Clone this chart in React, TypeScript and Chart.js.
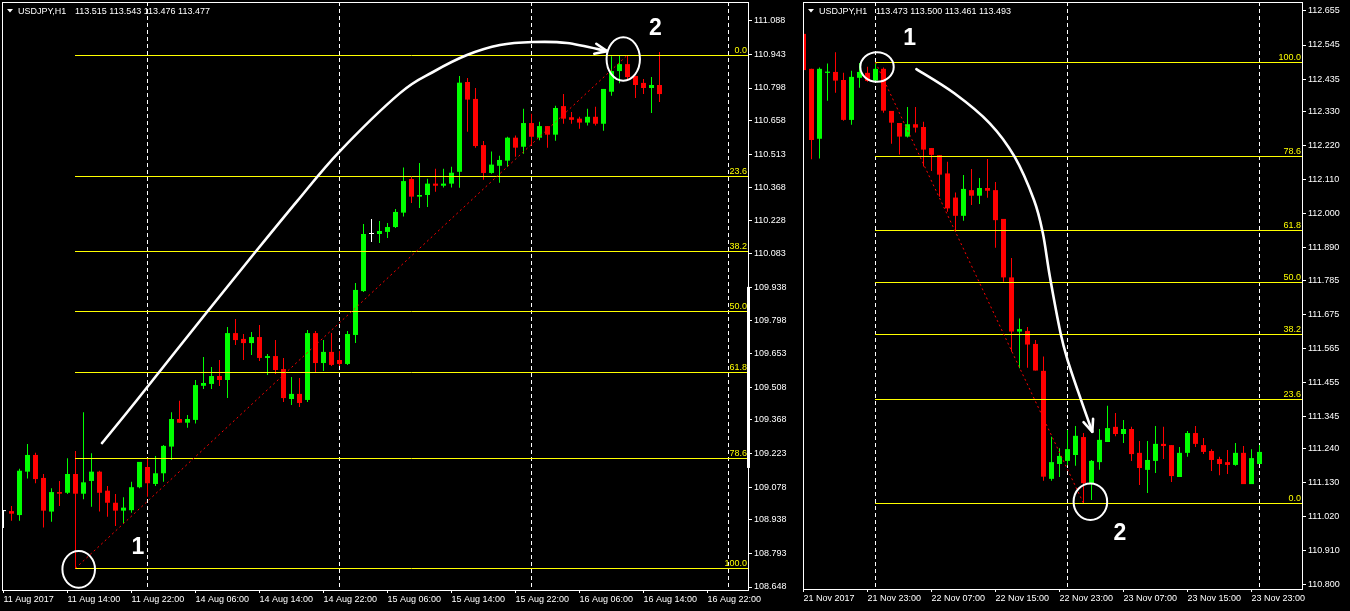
import React, { useEffect, useRef } from 'react';
import { Chart, registerables } from 'chart.js';

Chart.register(...registerables);

// ---------------- Left panel: USDJPY H1, 11–16 Aug 2017 (bar index 0 = 11 Aug 06:00) ----------------
const LEFT_OPEN = [
  108.975, 108.975, 108.958, 109.145, 109.217, 109.118, 108.973, 109.057, 109.054, 109.135,
  109.050, 109.105, 109.145, 109.063, 109.011, 108.977, 108.979, 109.078, 109.165, 109.092,
  109.138, 109.253, 109.372, 109.356, 109.368, 109.515, 109.523, 109.557, 109.540, 109.742,
  109.717, 109.699, 109.725, 109.635, 109.643, 109.587, 109.458, 109.480, 109.454, 109.742,
  109.613, 109.661, 109.626, 109.609, 109.734, 109.923, 110.169, 110.169, 110.178, 110.199,
  110.261, 110.406, 110.330, 110.337, 110.386, 110.377, 110.386, 110.437, 110.824, 110.751,
  110.552, 110.432, 110.463, 110.485, 110.584, 110.545, 110.647, 110.584, 110.634, 110.597,
  110.720, 110.672, 110.666, 110.649, 110.674, 110.644, 110.782, 110.871, 110.901, 110.850,
  110.820, 110.798, 110.811,
];
const LEFT_HIGH = [
  108.979, 108.997, 109.157, 109.264, 109.227, 109.135, 109.073, 109.105, 109.203, 109.234,
  109.401, 109.224, 109.149, 109.083, 109.049, 109.035, 109.101, 109.187, 109.203, 109.213,
  109.260, 109.401, 109.450, 109.389, 109.540, 109.639, 109.596, 109.626, 109.768, 109.803,
  109.738, 109.747, 109.777, 109.652, 109.712, 109.635, 109.553, 109.549, 109.755, 109.751,
  109.712, 109.742, 109.665, 109.751, 109.958, 110.212, 110.234, 110.225, 110.216, 110.277,
  110.455, 110.415, 110.475, 110.407, 110.450, 110.450, 110.459, 110.850, 110.841, 110.798,
  110.570, 110.524, 110.506, 110.588, 110.593, 110.709, 110.687, 110.653, 110.634, 110.722,
  110.772, 110.695, 110.674, 110.709, 110.717, 110.794, 110.935, 110.938, 110.940, 110.850,
  110.837, 110.845, 110.953,
];
const LEFT_LOW = [
  108.902, 108.934, 108.934, 109.116, 109.095, 108.904, 108.929, 108.997, 109.049, 108.729,
  109.026, 108.994, 108.973, 108.951, 108.911, 108.923, 108.968, 109.073, 109.037, 109.083,
  109.102, 109.195, 109.356, 109.334, 109.353, 109.501, 109.501, 109.514, 109.462, 109.691,
  109.626, 109.648, 109.622, 109.561, 109.566, 109.445, 109.432, 109.424, 109.445, 109.574,
  109.579, 109.600, 109.600, 109.605, 109.699, 109.919, 110.135, 110.130, 110.152, 110.195,
  110.244, 110.303, 110.281, 110.285, 110.351, 110.369, 110.369, 110.368, 110.610, 110.541,
  110.403, 110.429, 110.390, 110.459, 110.502, 110.515, 110.549, 110.573, 110.541, 110.571,
  110.644, 110.644, 110.623, 110.636, 110.636, 110.614, 110.765, 110.818, 110.833, 110.755,
  110.772, 110.690, 110.738,
];
const LEFT_CLOSE = [
  108.975, 108.964, 109.149, 109.217, 109.113, 108.977, 109.057, 109.050, 109.135, 109.050,
  109.099, 109.145, 109.054, 109.011, 108.977, 108.990, 109.078, 109.187, 109.095, 109.138,
  109.256, 109.372, 109.356, 109.372, 109.518, 109.527, 109.557, 109.540, 109.742, 109.712,
  109.699, 109.725, 109.635, 109.643, 109.583, 109.462, 109.480, 109.441, 109.742, 109.613,
  109.661, 109.605, 109.609, 109.738, 109.928, 110.169, 110.169, 110.182, 110.199, 110.264,
  110.397, 110.330, 110.337, 110.386, 110.377, 110.386, 110.433, 110.821, 110.748, 110.548,
  110.432, 110.468, 110.488, 110.584, 110.541, 110.647, 110.588, 110.634, 110.597, 110.712,
  110.666, 110.661, 110.649, 110.674, 110.644, 110.794, 110.871, 110.901, 110.845, 110.811,
  110.798, 110.811, 110.772,
];
const LEFT_PRICE_TICKS = [
  111.088, 110.943, 110.798, 110.658, 110.513, 110.368, 110.228, 110.083, 109.938,
  109.798, 109.653, 109.508, 109.368, 109.223, 109.078, 108.938, 108.793, 108.648,
];
const LEFT_TIME_INDEX = [0, 8, 16, 24, 32, 40, 48, 56, 64, 72, 80, 88];
const LEFT_TIME_LABELS = [
  '11 Aug 2017', '11 Aug 14:00', '11 Aug 22:00', '14 Aug 06:00', '14 Aug 14:00', '14 Aug 22:00',
  '15 Aug 06:00', '15 Aug 14:00', '15 Aug 22:00', '16 Aug 06:00', '16 Aug 14:00', '16 Aug 22:00',
];
const LEFT_SEPARATORS = [18, 42, 66, 90.6];
const LEFT_FIB_HIGH = 110.94;
const LEFT_FIB_LOW = 108.729;
const LEFT_FIB_LOW_INDEX = 9;
const LEFT_FIB_HIGH_INDEX = 78;
const LEFT_ARC_X = [12.31, 16.69, 25.44, 31.69, 36.81, 41.94, 49.56, 53.69, 57.94, 62.06, 66.19, 70.44, 75.44];
const LEFT_ARC_P = [109.268, 109.454, 109.833, 110.1, 110.315, 110.522, 110.776, 110.867, 110.94, 110.983, 110.996, 110.992, 110.957];
const LEFT_QUOTE = '113.515 113.543 113.476 113.477';

// ---------------- Right panel: USDJPY H1, 21–24 Nov 2017 (bar index 0 = 21 Nov 15:00) ----------------
const RIGHT_OPEN = [
  112.581, 112.468, 112.242, 112.455, 112.458, 112.432, 112.303, 112.439, 112.455, 112.430,
  112.468, 112.332, 112.293, 112.249, 112.289, 112.280, 112.212, 112.189, 112.130, 112.052,
  111.993, 112.076, 112.058, 112.083, 112.076, 111.983, 111.794, 111.619, 111.621, 111.579,
  111.492, 111.143, 111.191, 111.201, 111.220, 111.278, 111.129, 111.197, 111.262, 111.311,
  111.288, 111.304, 111.227, 111.172, 111.201, 111.256, 111.252, 111.149, 111.227, 111.291,
  111.252, 111.233, 111.207, 111.197, 111.188, 111.227, 111.126, 111.191,
];
const RIGHT_HIGH = [
  112.587, 112.468, 112.472, 112.485, 112.522, 112.455, 112.462, 112.487, 112.475, 112.489,
  112.472, 112.332, 112.293, 112.345, 112.345, 112.297, 112.212, 112.189, 112.168, 112.068,
  112.125, 112.144, 112.115, 112.177, 112.102, 111.983, 111.857, 111.661, 111.634, 111.592,
  111.538, 111.279, 111.242, 111.301, 111.314, 111.291, 111.204, 111.304, 111.379, 111.356,
  111.333, 111.311, 111.265, 111.265, 111.314, 111.311, 111.252, 111.246, 111.298, 111.314,
  111.275, 111.239, 111.214, 111.236, 111.259, 111.249, 111.239, 111.252,
];
const RIGHT_LOW = [
  112.423, 112.176, 112.178, 112.365, 112.391, 112.300, 112.287, 112.407, 112.426, 112.430,
  112.326, 112.226, 112.191, 112.246, 112.262, 112.152, 112.138, 112.055, 112.006, 111.942,
  111.977, 112.028, 112.031, 112.051, 111.890, 111.780, 111.554, 111.500, 111.502, 111.493,
  111.137, 111.137, 111.149, 111.187, 111.185, 111.064, 111.075, 111.172, 111.262, 111.281,
  111.259, 111.201, 111.123, 111.097, 111.162, 111.207, 111.133, 111.149, 111.214, 111.246,
  111.223, 111.168, 111.155, 111.159, 111.185, 111.126, 111.126, 111.191,
];
const RIGHT_CLOSE = [
  112.464, 112.238, 112.468, 112.459, 112.430, 112.303, 112.442, 112.458, 112.429, 112.468,
  112.333, 112.294, 112.249, 112.289, 112.278, 112.207, 112.190, 112.126, 112.017, 111.993,
  112.080, 112.058, 112.083, 112.074, 111.979, 111.794, 111.619, 111.627, 111.577, 111.493,
  111.150, 111.197, 111.217, 111.239, 111.282, 111.129, 111.201, 111.269, 111.307, 111.288,
  111.304, 111.223, 111.178, 111.204, 111.256, 111.249, 111.152, 111.227, 111.291, 111.256,
  111.230, 111.204, 111.191, 111.188, 111.227, 111.126, 111.210, 111.230,
];
const RIGHT_PRICE_TICKS = [
  112.655, 112.545, 112.435, 112.33, 112.22, 112.11, 112.0, 111.89, 111.785,
  111.675, 111.565, 111.455, 111.345, 111.24, 111.13, 111.02, 110.91, 110.8,
];
const RIGHT_TIME_INDEX = [0, 8, 16, 24, 32, 40, 48, 56];
const RIGHT_TIME_LABELS = [
  '21 Nov 2017', '21 Nov 23:00', '22 Nov 07:00', '22 Nov 15:00',
  '22 Nov 23:00', '23 Nov 07:00', '23 Nov 15:00', '23 Nov 23:00',
];
const RIGHT_SEPARATORS = [9, 33, 57];
const RIGHT_FIB_HIGH = 112.489;
const RIGHT_FIB_LOW = 111.064;
const RIGHT_FIB_HIGH_INDEX = 9;
const RIGHT_FIB_LOW_INDEX = 35;
const RIGHT_ARC_X = [14.11, 18.85, 23.28, 26.38, 28.81, 29.91, 30.8, 32.13, 33.01, 34.69, 36.1];
const RIGHT_ARC_P = [112.467, 112.389, 112.292, 112.184, 112.044, 111.938, 111.796, 111.614, 111.527, 111.398, 111.295];
const RIGHT_QUOTE = '113.473 113.500 113.461 113.493';

const FIB_LEVELS = [0, 23.6, 38.2, 50, 61.8, 78.6, 100];
const FIB_LABELS = ['0.0', '23.6', '38.2', '50.0', '61.8', '78.6', '100.0'];

const BULL = '#00ff00';
const BEAR = '#ff0000';
const DOJI = '#ffffff';
const FONT = '"Liberation Sans", Arial, sans-serif';

type Panel = {
  open: number[]; high: number[]; low: number[]; close: number[];
  xMin: number; xMax: number; yMin: number; yMax: number;
  priceTicks: number[]; timeIdx: number[]; timeLabels: string[];
  separators: number[];
  fibStart: number; fibPrices: number[];
  trendFrom: [number, number]; trendTo: [number, number];
  arcX: number[]; arcP: number[];
  circles: { x: number; p: number; rx: number; ry: number }[];
  marks: { x: number; p: number; text: string }[];
  quote: string;
  padLeft: number; yAxisWidth: number; xAxisHeight: number;
  scrollMark?: [number, number];
};

const LEFT_PANEL: Panel = {
  open: LEFT_OPEN, high: LEFT_HIGH, low: LEFT_LOW, close: LEFT_CLOSE,
  xMin: -0.1875, xMax: 93.0625, yMin: 108.6351, yMax: 111.1686,
  priceTicks: LEFT_PRICE_TICKS, timeIdx: LEFT_TIME_INDEX, timeLabels: LEFT_TIME_LABELS,
  separators: LEFT_SEPARATORS,
  fibStart: LEFT_FIB_LOW_INDEX,
  fibPrices: FIB_LEVELS.map((l) => LEFT_FIB_HIGH - (l / 100) * (LEFT_FIB_HIGH - LEFT_FIB_LOW)),
  trendFrom: [LEFT_FIB_LOW_INDEX, LEFT_FIB_LOW], trendTo: [LEFT_FIB_HIGH_INDEX, LEFT_FIB_HIGH],
  arcX: LEFT_ARC_X, arcP: LEFT_ARC_P,
  circles: [
    { x: 9.4, p: 108.724, rx: 16.3, ry: 18.3 },
    { x: 77.47, p: 110.923, rx: 16.7, ry: 21.7 },
  ],
  marks: [
    { x: 16.81, p: 108.822, text: '1' },
    { x: 81.5, p: 111.057, text: '2' },
  ],
  quote: LEFT_QUOTE,
  padLeft: 2, yAxisWidth: 49, xAxisHeight: 21,
  scrollMark: [109.941, 109.161],
};

const RIGHT_PANEL: Panel = {
  open: RIGHT_OPEN, high: RIGHT_HIGH, low: RIGHT_LOW, close: RIGHT_CLOSE,
  xMin: -0.0625, xMax: 62.3125, yMin: 110.787, yMax: 112.684,
  priceTicks: RIGHT_PRICE_TICKS, timeIdx: RIGHT_TIME_INDEX, timeLabels: RIGHT_TIME_LABELS,
  separators: RIGHT_SEPARATORS,
  fibStart: RIGHT_FIB_HIGH_INDEX,
  fibPrices: FIB_LEVELS.map((l) => RIGHT_FIB_LOW + (l / 100) * (RIGHT_FIB_HIGH - RIGHT_FIB_LOW)),
  trendFrom: [RIGHT_FIB_HIGH_INDEX, RIGHT_FIB_HIGH], trendTo: [RIGHT_FIB_LOW_INDEX, RIGHT_FIB_LOW],
  arcX: RIGHT_ARC_X, arcP: RIGHT_ARC_P,
  circles: [
    { x: 9.19, p: 112.474, rx: 16.7, ry: 14.7 },
    { x: 35.86, p: 111.069, rx: 16.8, ry: 18.3 },
  ],
  marks: [
    { x: 13.27, p: 112.568, text: '1' },
    { x: 39.54, p: 110.97, text: '2' },
  ],
  quote: RIGHT_QUOTE,
  padLeft: 6, yAxisWidth: 48, xAxisHeight: 22,
};

function smoothPath(ctx: CanvasRenderingContext2D, pts: number[][]) {
  ctx.beginPath();
  ctx.moveTo(pts[0][0], pts[0][1]);
  for (let i = 0; i < pts.length - 1; i++) {
    const p0 = pts[i - 1] || pts[i];
    const p1 = pts[i];
    const p2 = pts[i + 1];
    const p3 = pts[i + 2] || p2;
    ctx.bezierCurveTo(
      p1[0] + (p2[0] - p0[0]) / 6, p1[1] + (p2[1] - p0[1]) / 6,
      p2[0] - (p3[0] - p1[0]) / 6, p2[1] - (p3[1] - p1[1]) / 6,
      p2[0], p2[1],
    );
  }
  ctx.stroke();
}

function makeOverlay(p: Panel) {
  return {
    id: 'mt4overlay',
    beforeDatasetsDraw(chart: any) {
      const { ctx, chartArea: a, scales } = chart;
      ctx.save();
      ctx.strokeStyle = '#ffffff';
      ctx.lineWidth = 1;
      ctx.setLineDash([4, 3]);
      for (const s of p.separators) {
        const px = Math.floor(scales.x.getPixelForValue(s)) + 0.5;
        ctx.beginPath();
        ctx.moveTo(px, a.top);
        ctx.lineTo(px, a.bottom);
        ctx.stroke();
      }
      ctx.restore();
    },
    afterDatasetsDraw(chart: any) {
      const { ctx, chartArea: a, scales } = chart;
      const x = scales.x;
      const y = scales.y;
      ctx.save();
      ctx.beginPath();
      ctx.rect(a.left, a.top, a.right - a.left, a.bottom - a.top);
      ctx.clip();

      // Fibonacci levels
      const xs = Math.floor(x.getPixelForValue(p.fibStart));
      ctx.strokeStyle = '#ffff00';
      ctx.fillStyle = '#ffff00';
      ctx.lineWidth = 1;
      ctx.setLineDash([]);
      ctx.font = `9px ${FONT}`;
      ctx.textAlign = 'right';
      ctx.textBaseline = 'alphabetic';
      p.fibPrices.forEach((price, i) => {
        const py = Math.floor(y.getPixelForValue(price)) + 0.5;
        ctx.beginPath();
        ctx.moveTo(xs, py);
        ctx.lineTo(a.right, py);
        ctx.stroke();
        ctx.fillText(FIB_LABELS[i], a.right - 1, py - 2.5);
      });

      // Fibonacci trend line (red dotted)
      ctx.strokeStyle = '#ff0000';
      ctx.setLineDash([2, 3]);
      ctx.beginPath();
      ctx.moveTo(x.getPixelForValue(p.trendFrom[0]), y.getPixelForValue(p.trendFrom[1]));
      ctx.lineTo(x.getPixelForValue(p.trendTo[0]), y.getPixelForValue(p.trendTo[1]));
      ctx.stroke();
      ctx.setLineDash([]);

      // White hand-drawn annotations
      ctx.strokeStyle = '#ffffff';
      ctx.fillStyle = '#ffffff';
      ctx.lineCap = 'round';
      ctx.lineJoin = 'round';
      const pts = p.arcX.map((v, i) => [x.getPixelForValue(v), y.getPixelForValue(p.arcP[i])]);
      ctx.lineWidth = 2.6;
      smoothPath(ctx, pts);
      const tip = pts[pts.length - 1];
      const prev = pts[pts.length - 2];
      const ang = Math.atan2(prev[1] - tip[1], prev[0] - tip[0]);
      const len = 13;
      const spread = 0.4;
      ctx.beginPath();
      ctx.moveTo(tip[0] + len * Math.cos(ang + spread), tip[1] + len * Math.sin(ang + spread));
      ctx.lineTo(tip[0], tip[1]);
      ctx.lineTo(tip[0] + len * Math.cos(ang - spread), tip[1] + len * Math.sin(ang - spread));
      ctx.stroke();

      ctx.lineWidth = 2;
      for (const c of p.circles) {
        ctx.beginPath();
        ctx.ellipse(x.getPixelForValue(c.x), y.getPixelForValue(c.p), c.rx, c.ry, 0, 0, Math.PI * 2);
        ctx.stroke();
      }
      ctx.font = `bold 23px ${FONT}`;
      ctx.textAlign = 'center';
      ctx.textBaseline = 'middle';
      for (const m of p.marks) {
        ctx.fillText(m.text, x.getPixelForValue(m.x), y.getPixelForValue(m.p) + 1);
      }
      ctx.restore();
    },
    afterDraw(chart: any) {
      const { ctx, chartArea: a, scales } = chart;
      ctx.save();
      ctx.strokeStyle = '#ffffff';
      ctx.lineWidth = 1;
      ctx.setLineDash([]);
      ctx.strokeRect(a.left + 0.5, a.top + 0.5, a.right - a.left, a.bottom - a.top);
      if (p.scrollMark) {
        const t = scales.y.getPixelForValue(p.scrollMark[0]);
        const b = scales.y.getPixelForValue(p.scrollMark[1]);
        ctx.fillStyle = '#ffffff';
        ctx.fillRect(a.right - 1, t, 3, b - t);
      }
      // header
      ctx.fillStyle = '#ffffff';
      ctx.beginPath();
      ctx.moveTo(a.left + 5, a.top + 7);
      ctx.lineTo(a.left + 11, a.top + 7);
      ctx.lineTo(a.left + 8, a.top + 10.5);
      ctx.closePath();
      ctx.fill();
      ctx.font = `9px ${FONT}`;
      ctx.textAlign = 'left';
      ctx.textBaseline = 'alphabetic';
      ctx.fillText('USDJPY,H1', a.left + 16, a.top + 12);
      ctx.fillText(p.quote, a.left + 73, a.top + 12);
      ctx.restore();
    },
  };
}

function CandlePanel({ panel, width, left }: { panel: Panel; width: number; left: number }) {
  const ref = useRef<HTMLCanvasElement | null>(null);
  useEffect(() => {
    const canvas = ref.current;
    if (!canvas) return;
    const p = panel;
    const idx = p.open.map((_, i) => i);
    const colors = idx.map((i) => (p.close[i] > p.open[i] ? BULL : p.close[i] < p.open[i] ? BEAR : DOJI));
    const common = {
      borderWidth: 0,
      grouped: false,
      barPercentage: 1,
      categoryPercentage: 1,
      minBarLength: 1,
      inflateAmount: 0,
      clip: 0,
      backgroundColor: colors,
    };
    const chart = new Chart(canvas, {
      type: 'bar',
      data: {
        datasets: [
          {
            ...common,
            label: 'body',
            data: idx.map((i) => ({ x: i, y: [p.open[i], p.close[i]] })),
            maxBarThickness: 5,
            order: 1,
          } as any,
          {
            ...common,
            label: 'wick',
            data: idx.map((i) => ({ x: i, y: [p.low[i], p.high[i]] })),
            maxBarThickness: 1,
            order: 2,
          } as any,
        ],
      },
      options: {
        responsive: false,
        maintainAspectRatio: false,
        devicePixelRatio: 1,
        animation: false,
        events: [],
        layout: { padding: { left: p.padLeft, top: 2, right: 0, bottom: 0 } },
        plugins: { legend: { display: false }, tooltip: { enabled: false } },
        scales: {
          x: {
            type: 'linear',
            min: p.xMin,
            max: p.xMax,
            offset: false,
            grid: { offset: false, drawOnChartArea: false, drawTicks: true, tickLength: 3, color: '#ffffff', lineWidth: 1 },
            border: { display: false },
            ticks: {
              autoSkip: false,
              maxRotation: 0,
              minRotation: 0,
              align: 'start',
              padding: 1,
              color: '#ffffff',
              font: { family: FONT, size: 9 },
              callback: (_v: any, i: number) => p.timeLabels[i],
            },
            afterBuildTicks: (s: any) => {
              s.ticks = p.timeIdx.map((v) => ({ value: v }));
            },
            afterFit: (s: any) => {
              s.height = p.xAxisHeight;
              s.paddingLeft = 0;
              s.paddingRight = 0;
            },
          },
          y: {
            type: 'linear',
            position: 'right',
            min: p.yMin,
            max: p.yMax,
            beginAtZero: false,
            grid: { drawOnChartArea: false, drawTicks: true, tickLength: 4, color: '#ffffff', lineWidth: 1 },
            border: { display: false },
            ticks: {
              autoSkip: false,
              padding: 2,
              color: '#ffffff',
              font: { family: FONT, size: 9 },
              callback: (v: any) => Number(v).toFixed(3),
            },
            afterBuildTicks: (s: any) => {
              s.ticks = p.priceTicks.map((v) => ({ value: v }));
            },
            afterFit: (s: any) => {
              s.width = p.yAxisWidth;
              s.paddingTop = 0;
              s.paddingBottom = 0;
            },
          },
        },
      } as any,
      plugins: [makeOverlay(p) as any],
    });
    return () => chart.destroy();
  }, [panel]);
  return (
    <canvas
      ref={ref}
      width={width}
      height={611}
      style={{ position: 'absolute', left, top: 0, width, height: 611, display: 'block' }}
    />
  );
}

export default function App() {
  useEffect(() => {
    document.body.style.margin = '0';
    document.body.style.background = '#000000';
  }, []);
  return (
    <div style={{ position: 'relative', width: 1350, height: 611, background: '#000000', overflow: 'hidden' }}>
      <CandlePanel panel={LEFT_PANEL} width={797} left={0} />
      <CandlePanel panel={RIGHT_PANEL} width={553} left={797} />
    </div>
  );
}
